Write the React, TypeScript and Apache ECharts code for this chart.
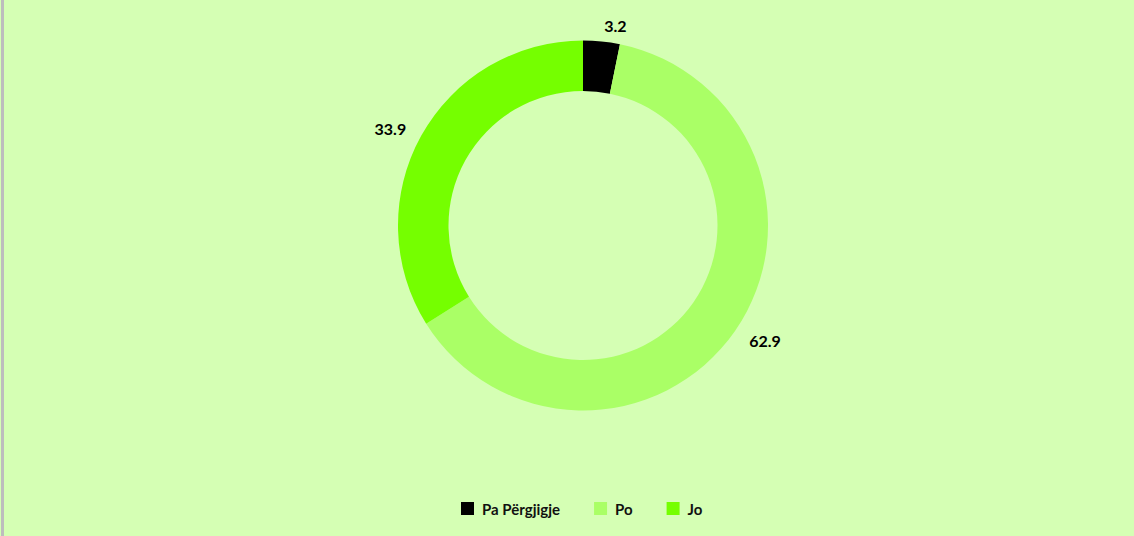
import React, { useEffect, useRef } from "react";
import * as echarts from "echarts";

const categories = ["Pa Përgjigje", "Po", "Jo"];
const values = [3.2, 62.9, 33.9];
const colors = ["#000000", "#aaff66", "#75ff00"];

export default function App() {
  const ref = useRef<HTMLDivElement>(null);
  useEffect(() => {
    document.body.style.margin = "0";
    const chart = echarts.init(ref.current!, null, { renderer: "svg" });
    chart.setOption({
      animation: false,
      backgroundColor: "transparent",
      color: colors,
      legend: {
        data: categories,
        left: 456,
        top: 496,
        itemWidth: 13,
        itemHeight: 13,
        itemGap: 34,
        icon: "rect",
        selectedMode: false,
        textStyle: {
          fontFamily: "Lato",
          fontWeight: "bold",
          fontSize: 15,
          color: "#111",
          padding: [0, 0, 0, 3],
        },
      },
      series: [
        {
          type: "pie",
          center: [583, 225.5],
          radius: [134.5, 185],
          startAngle: 90,
          clockwise: true,
          avoidLabelOverlap: false,
          label: {
            show: true,
            position: "outside",
            formatter: (p: any) => p.value.toFixed(1),
            fontFamily: "Lato",
            fontWeight: "bold",
            fontSize: 16,
            color: "#000",
            distanceToLabelLine: 1,
          },
          labelLine: { show: false, length: 16, length2: 0 },
          itemStyle: { borderWidth: 0 },
          emphasis: { disabled: true },
          data: categories.map((c, i) => ({ name: c, value: values[i] })),
        },
      ],
    });
    return () => chart.dispose();
  }, []);
  return (
    <div style={{ position: "relative", width: 1134, height: 536, background: "#d5ffb4" }}>
      <div style={{ position: "absolute", left: 1, top: 0, width: 3, height: 536, background: "#bdbdbd" }} />
      <div ref={ref} style={{ position: "absolute", left: 0, top: 0, width: 1134, height: 536 }} />
    </div>
  );
}
